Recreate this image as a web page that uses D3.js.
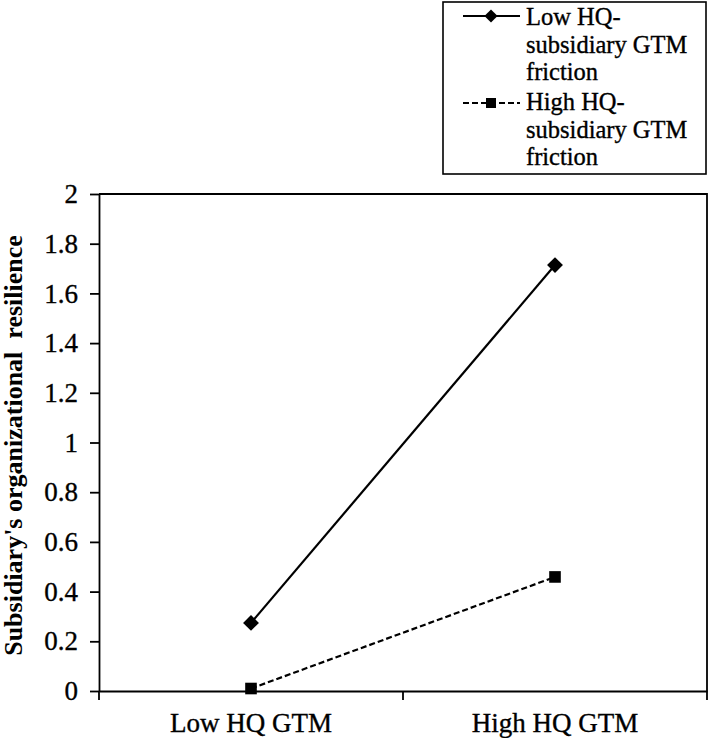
<!DOCTYPE html>
<html>
<head>
<meta charset="utf-8">
<script src="https://cdn.jsdelivr.net/npm/d3@7"></script>
<style>
    body { margin: 0; background: #fff; }
    svg { display: block; }
    /* reference text is a heavy, slightly smeared Times */
    .heavy { stroke: #000; stroke-width: 0.35px; }
</style>
</head>
<body>
<div class="chart"></div>
<script>
// chart values
var categories = ["Low HQ GTM", "High HQ GTM"];
var lowFriction = [0.274, 1.714];
var highFriction = [0.01, 0.459];
var yTickValues = [0, 0.2, 0.4, 0.6, 0.8, 1, 1.2, 1.4, 1.6, 1.8, 2];
var yTickLabels = ["0", "0.2", "0.4", "0.6", "0.8", "1", "1.2", "1.4", "1.6", "1.8", "2"];
var legendLow = ["Low HQ-", "subsidiary GTM", "friction"];
var legendHigh = ["High HQ-", "subsidiary GTM", "friction"];
var yTitle = "Subsidiary's organizational\u00a0 resilience";

var serif = "'Liberation Serif', 'Times New Roman', serif";

function drawChart() {

    var svgWidth = 709;
    var svgHeight = 738;

    // plot frame (px)
    var margin = {left: 99, right: 2, top: 194, bottom: 47};
    var plotRight = svgWidth - margin.right;
    var plotBottom = svgHeight - margin.bottom;

    var svg = d3.select(".chart")
        .append("svg")
        .attr("width", svgWidth)
        .attr("height", svgHeight)
        .style("font-family", serif);

    // scales
    var x = d3.scaleBand()
        .domain(categories)
        .range([margin.left, plotRight]);

    var y = d3.scaleLinear()
        .domain([0, 2])
        .range([plotBottom, margin.top]);

    var cx = function(c) { return x(c) + x.bandwidth() / 2; };

    // box round the plot (top + right sides)
    svg.append("path")
        .attr("d", `M${margin.left},${margin.top}H${plotRight}V${plotBottom}`)
        .attr("fill", "none")
        .attr("stroke", "#000")
        .attr("stroke-width", 1.8);

    // y axis
    var yAxis = d3.axisLeft(y)
        .tickValues(yTickValues)
        .tickFormat(function(d, i) { return yTickLabels[i]; })
        .tickSize(9)
        .tickSizeOuter(0)
        .tickPadding(12);

    var yG = svg.append("g")
        .attr("transform", `translate(${margin.left},0)`)
        .call(yAxis);
    yG.select(".domain").attr("stroke-width", 1.8);
    yG.selectAll(".tick line").attr("stroke-width", 1.8);
    yG.selectAll(".tick text")
        .classed("heavy", true)
        .attr("font-family", serif)
        .attr("font-size", 27)
        .attr("fill", "#000");

    // x axis: labels centred in each band, ticks on band edges
    var xAxis = d3.axisBottom(x)
        .tickSize(0)
        .tickSizeOuter(0)
        .tickPadding(22);

    var xG = svg.append("g")
        .attr("transform", `translate(0,${plotBottom})`)
        .call(xAxis);
    xG.select(".domain").attr("stroke-width", 1.8);
    xG.selectAll(".tick text")
        .classed("heavy", true)
        .attr("font-family", serif)
        .attr("font-size", 27)
        .attr("fill", "#000");

    var edges = categories.map(function(c) { return x(c); }).concat([x.range()[1]]);
    xG.selectAll(".edge")
        .data(edges)
        .enter()
        .append("line")
        .attr("x1", d => d)
        .attr("x2", d => d)
        .attr("y1", 0)
        .attr("y2", 9)
        .attr("stroke", "#000")
        .attr("stroke-width", 1.8);

    // y title
    svg.append("text")
        .attr("transform", "rotate(-90)")
        .attr("x", -(margin.top + plotBottom) / 2 - 3)
        .attr("y", 22)
        .attr("text-anchor", "middle")
        .attr("font-family", serif)
        .attr("font-weight", "bold")
        .attr("font-size", 26)
        .text(yTitle);

    // lines
    var line = d3.line()
        .x((d, i) => cx(categories[i]))
        .y(d => y(d));

    svg.append("path")
        .datum(lowFriction)
        .attr("d", line)
        .attr("fill", "none")
        .attr("stroke", "#000")
        .attr("stroke-width", 2.2);

    svg.append("path")
        .datum(highFriction)
        .attr("d", line)
        .attr("fill", "none")
        .attr("stroke", "#000")
        .attr("stroke-width", 2.2)
        .attr("stroke-dasharray", "6,3");

    var diamond = d3.symbol().type(d3.symbolDiamond2).size(160);
    var square = d3.symbol().type(d3.symbolSquare).size(135);

    svg.selectAll(".lowPt")
        .data(lowFriction)
        .enter()
        .append("path")
        .attr("d", diamond)
        .attr("transform", (d, i) => `translate(${cx(categories[i])},${y(d)})`)
        .attr("fill", "#000");

    svg.selectAll(".highPt")
        .data(highFriction)
        .enter()
        .append("path")
        .attr("d", square)
        .attr("transform", (d, i) => `translate(${cx(categories[i])},${y(d)})`)
        .attr("fill", "#000");

    // legend
    var legend = svg.append("g");

    legend.append("rect")
        .attr("x", 443)
        .attr("y", 2)
        .attr("width", 263)
        .attr("height", 172)
        .attr("fill", "#fff")
        .attr("stroke", "#000")
        .attr("stroke-width", 1.6);

    var entries = [
        {lines: legendLow, dash: null, sym: d3.symbol().type(d3.symbolDiamond2).size(110), ly: 16, ty: 25},
        {lines: legendHigh, dash: "6,3", sym: d3.symbol().type(d3.symbolSquare).size(100), ly: 103, ty: 110}
    ];

    entries.forEach(function(e) {
        legend.append("line")
            .attr("x1", 463)
            .attr("x2", 520)
            .attr("y1", e.ly)
            .attr("y2", e.ly)
            .attr("stroke", "#000")
            .attr("stroke-width", 2)
            .attr("stroke-dasharray", e.dash);
        legend.append("path")
            .attr("d", e.sym)
            .attr("transform", `translate(491,${e.ly})`)
            .attr("fill", "#000");
        legend.selectAll(null)
            .data(e.lines)
            .enter()
            .append("text")
            .classed("heavy", true)
            .attr("x", 526)
            .attr("y", (d, i) => e.ty + i * 27.5)
            .attr("font-family", serif)
            .attr("font-size", 24.5)
            .text(d => d);
    });
}

drawChart();
</script>
</body>
</html>
